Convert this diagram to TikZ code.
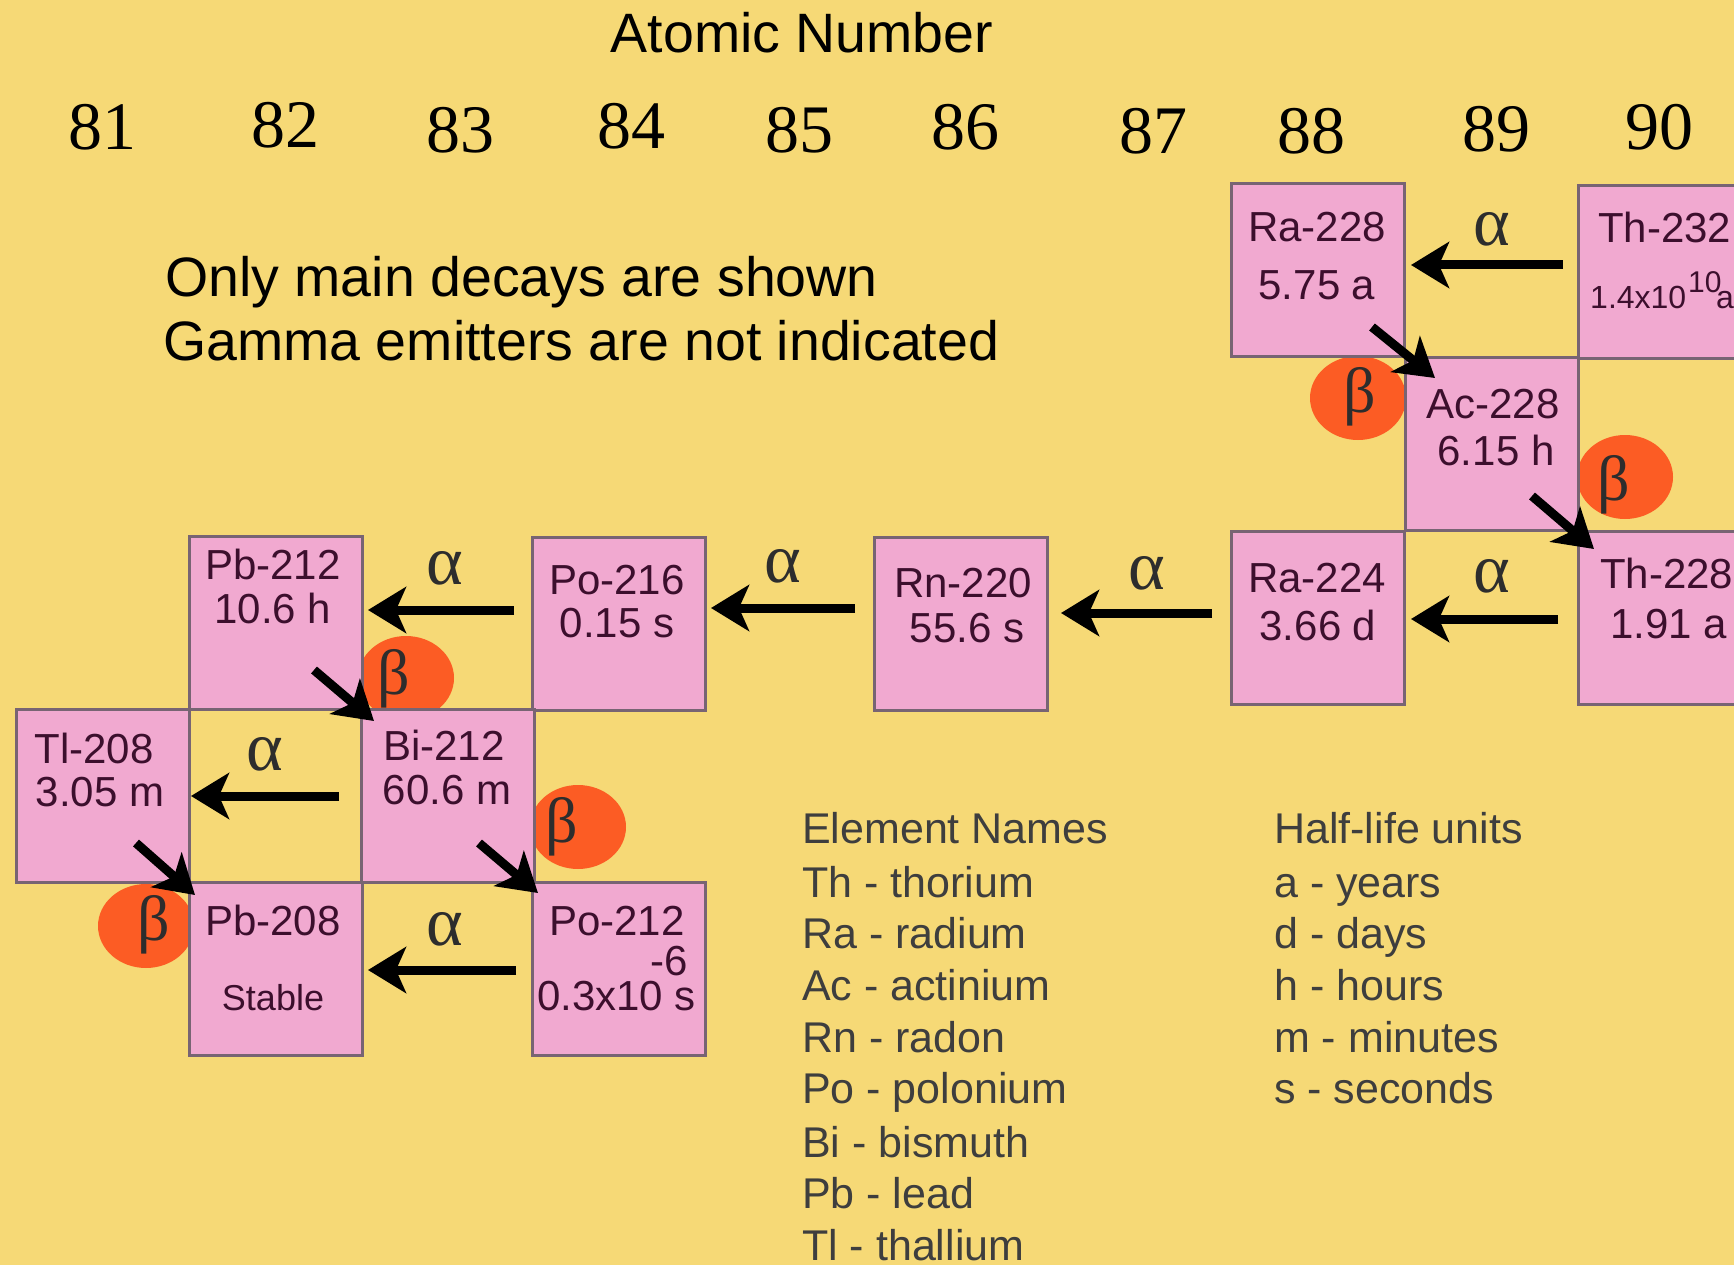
\documentclass[tikz,border=0pt]{standalone}
\usepackage{fontspec}
\setmainfont{Liberation Sans}
\newfontfamily\serifnum{Liberation Serif}
\usetikzlibrary{arrows.meta,calc,shapes.geometric}
\definecolor{bg}{RGB}{246,217,118}
\definecolor{boxpink}{RGB}{241,169,208}
\definecolor{boxline}{RGB}{120,100,115}
\definecolor{boxtext}{RGB}{60,15,45}
\definecolor{betaorange}{RGB}{252,92,36}
\definecolor{greek}{RGB}{45,45,45}
\definecolor{legendgray}{RGB}{62,62,62}
\begin{document}
\begin{tikzpicture}[x=1pt,y=-1pt,
  box/.style={draw=boxline, line width=3pt, fill=boxpink, minimum width=173pt, minimum height=173pt, anchor=north west, inner sep=0pt},
  btxt/.style={font=\fontsize{42}{48}\selectfont, text=boxtext, inner sep=0pt, anchor=base},
  stxt/.style={font=\fontsize{36}{40}\selectfont, text=boxtext, inner sep=0pt, anchor=base},
  alab/.style={font=\serifnum\fontsize{70}{70}\selectfont, text=greek, inner sep=0pt},
  blab/.style={font=\serifnum\fontsize{64}{64}\selectfont, text=greek, inner sep=0pt},
  bdot/.style={ellipse, fill=betaorange, minimum width=96pt, minimum height=84pt, inner sep=0pt},
  decay/.style={line width=9pt, -{Stealth[length=38pt, width=46pt, inset=10pt]}},
  numlab/.style={font=\serifnum\fontsize{68}{70}\selectfont, inner sep=0pt, anchor=base},
  legend/.style={font=\fontsize{43}{46}\selectfont, text=legendgray, inner sep=0pt, anchor=base west},
  note/.style={font=\fontsize{55.5}{60}\selectfont, inner sep=0pt, anchor=base west}
]
\useasboundingbox (0,0) rectangle (1734,1265);
\clip (0,0) rectangle (1734,1265);
\fill[bg] (0,0) rectangle (1734,1265);

% header
\node[font=\fontsize{55.5}{60}\selectfont, inner sep=0pt, anchor=base] (title) at (802,53) {Atomic Number};
\node[numlab] (n81) at (102,150) {81};
\node[numlab] (n82) at (285,148) {82};
\node[numlab] (n83) at (460,153) {83};
\node[numlab] (n84) at (631,149) {84};
\node[numlab] (n85) at (799,153) {85};
\node[numlab] (n86) at (965,150) {86};
\node[numlab] (n87) at (1153,154) {87};
\node[numlab] (n88) at (1311,154) {88};
\node[numlab] (n89) at (1496,152) {89};
\node[numlab] (n90) at (1659,150) {90};

\node[note] (note1) at (165,297) {Only main decays are shown};
\node[note] (note2) at (163,360) {Gamma emitters are not indicated};

% beta circles (behind boxes)
\node[bdot] (c1) at (1358,398) {};
\node[bdot] (c2) at (1625,477) {};
\node[bdot] (c3) at (406,678) {};
\node[bdot] (c4) at (578,827) {};
\node[bdot] (c5) at (146,926) {};

% boxes
\node[box] (ra228) at (1230,182) {};
\node[box] (th232) at (1577,184) {};
\node[box] (ac228) at (1404,356) {};
\node[box] (ra224) at (1230,530) {};
\node[box] (th228) at (1577,530) {};
\node[box] (rn220) at (873,536) {};
\node[box] (po216) at (531,536) {};
\node[box] (pb212) at (188,535) {};
\node[box] (tl208) at (15,708) {};
\node[box] (bi212) at (360,708) {};
\node[box] (pb208) at (188,881) {};
\node[box] (po212) at (531,881) {};

% box texts
\node[btxt] (ra228n) at (1317,242) {Ra-228};
\node[btxt] (ra228h) at (1317,299) {5.75 a};
\node[btxt, anchor=base west] (th232n) at (1598,243) {Th-232};
\node[font=\fontsize{32}{36}\selectfont, text=boxtext, inner sep=0pt, anchor=base west] (th232h) at (1590,308) {1.4x10};
\node[font=\fontsize{30}{34}\selectfont, text=boxtext, inner sep=0pt, anchor=base west] (th232e) at (1688,293) {10};
\node[font=\fontsize{32}{36}\selectfont, text=boxtext, inner sep=0pt, anchor=base west] (th232u) at (1716,308) {a};
\node[btxt] (ac228n) at (1493,418) {Ac-228};
\node[btxt] (ac228h) at (1496,465) {6.15 h};
\node[btxt] (ra224n) at (1317,592) {Ra-224};
\node[btxt] (ra224h) at (1318,640) {3.66 d};
\node[btxt, anchor=base west] (th228n) at (1600,588) {Th-228};
\node[btxt, anchor=base west] (th228h) at (1610,638) {1.91 a};
\node[btxt] (rn220n) at (963,597) {Rn-220};
\node[btxt] (rn220h) at (967,642) {55.6 s};
\node[btxt] (po216n) at (617,594) {Po-216};
\node[btxt] (po216h) at (617,637) {0.15 s};
\node[btxt] (pb212n) at (273,579) {Pb-212};
\node[btxt] (pb212h) at (273,623) {10.6 h};
\node[btxt] (tl208n) at (94,763) {Tl-208};
\node[btxt] (tl208h) at (100,806) {3.05 m};
\node[btxt] (bi212n) at (444,760) {Bi-212};
\node[btxt] (bi212h) at (447,804) {60.6 m};
\node[btxt] (pb208n) at (273,935) {Pb-208};
\node[stxt] (pb208h) at (273,1010) {Stable};
\node[btxt] (po212n) at (617,935) {Po-212};
\node[btxt, anchor=base east] (po212e) at (688,975) {-6};
\node[btxt, anchor=base west] (po212h) at (537,1010) {0.3x10 s};

% alpha decays
\draw[decay, shorten <=14pt, shorten >=5pt] (th232.west |- 0,265) -- (ra228.east |- 0,265);
\draw[decay, shorten <=19pt, shorten >=5pt] (th228.west |- 0,619) -- (ra224.east |- 0,619);
\draw[decay, shorten <=18pt, shorten >=12pt] (ra224.west |- 0,613) -- (rn220.east |- 0,613);
\draw[decay, shorten <=18pt, shorten >=4pt] (rn220.west |- 0,608) -- (po216.east |- 0,608);
\draw[decay, shorten <=17pt, shorten >=4pt] (po216.west |- 0,610) -- (pb212.east |- 0,610);
\draw[decay, shorten <=21pt, shorten >=0pt] (bi212.west |- 0,796) -- (tl208.east |- 0,796);
\draw[decay, shorten <=15pt, shorten >=4pt] (po212.west |- 0,970) -- (pb208.east |- 0,970);

% beta decays
\draw[decay] ($(ra228.south east)+(-34,-31)$) -- ($(ac228.north west)+(31,22)$);
\draw[decay] ($(ac228.south east)+(-48,-36)$) -- ($(th228.north west)+(17,19)$);
\draw[decay] ($(pb212.south east)+(-50,-41)$) -- ($(bi212.north west)+(14,13)$);
\draw[decay] ($(bi212.south east)+(-57,-41)$) -- ($(po212.north west)+(7,12)$);
\draw[decay] ($(tl208.south east)+(-55,-41)$) -- ($(pb208.north west)+(7,14)$);

% alpha labels
\node[alab] (a1) at (1492,229) {α};
\node[alab] (a2) at (1492,576) {α};
\node[alab] (a3) at (1147,573) {α};
\node[alab] (a4) at (783,566) {α};
\node[alab] (a5) at (445,568) {α};
\node[alab] (a6) at (265,754) {α};
\node[alab] (a7) at (445,929) {α};

% beta labels
\node[blab] (b1) at (1360,397) {β};
\node[blab] (b2) at (1614,485) {β};
\node[blab] (b3) at (394,679) {β};
\node[blab] (b4) at (562,827) {β};
\node[blab] (b5) at (154,925) {β};

% legend
\node[legend] (en0) at (802,843) {Element Names};
\node[legend] (en1) at (802,897) {Th - thorium};
\node[legend] (en2) at (802,948) {Ra - radium};
\node[legend] (en3) at (802,1000) {Ac - actinium};
\node[legend] (en4) at (802,1052) {Rn - radon};
\node[legend] (en5) at (802,1103) {Po - polonium};
\node[legend] (en6) at (802,1157) {Bi - bismuth};
\node[legend] (en7) at (802,1208) {Pb - lead};
\node[legend] (en8) at (802,1260) {Tl - thallium};
\node[legend] (hl0) at (1274,843) {Half-life units};
\node[legend] (hl1) at (1274,897) {a - years};
\node[legend] (hl2) at (1274,948) {d - days};
\node[legend] (hl3) at (1274,1000) {h - hours};
\node[legend] (hl4) at (1274,1052) {m - minutes};
\node[legend] (hl5) at (1274,1103) {s - seconds};
\end{tikzpicture}
\end{document}
